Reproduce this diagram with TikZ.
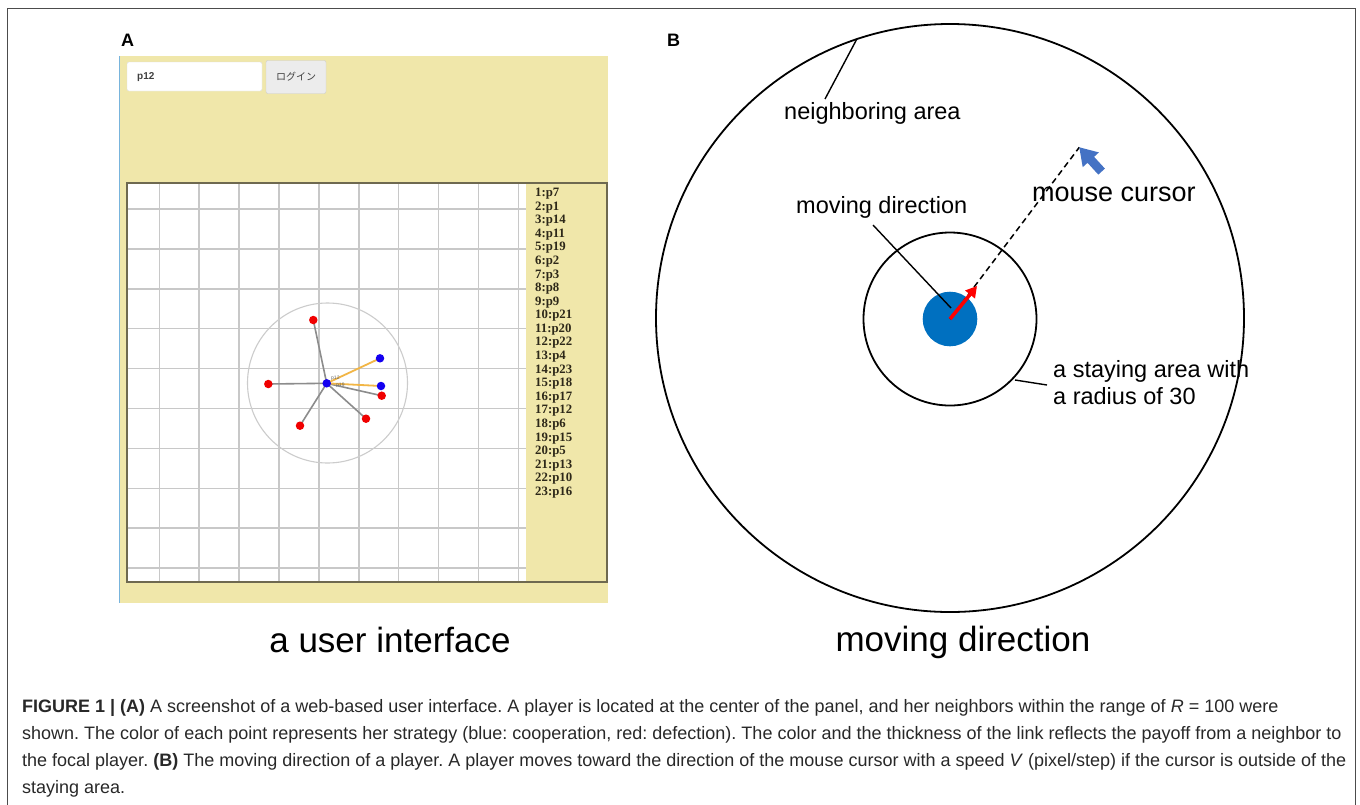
\documentclass[tikz,border=0pt]{standalone}
\usepackage{fontspec}
\setmainfont{Liberation Sans}
\newfontfamily\listfont{Liberation Serif}
\newfontfamily\jpfont{Noto Sans CJK JP}
\usetikzlibrary{arrows.meta}
\frenchspacing

\definecolor{panelyellow}{RGB}{240,231,170}
\definecolor{gridgray}{RGB}{200,200,200}
\definecolor{frameolive}{RGB}{110,105,80}
\definecolor{linkgray}{RGB}{140,140,140}
\definecolor{linkorange}{RGB}{242,182,70}
\definecolor{dotred}{RGB}{240,0,0}
\definecolor{dotblue}{RGB}{20,0,240}
\definecolor{diskblue}{RGB}{0,112,192}
\definecolor{cursorblue}{RGB}{68,114,196}
\definecolor{captiongray}{RGB}{40,40,40}
\definecolor{listtext}{RGB}{45,40,25}

\tikzset{
  badlink/.style={draw=linkgray, line width=1.6pt},
  goodlink/.style={draw=linkorange, line width=1.8pt},
  ring/.style={draw=black, line width=1.8pt},
  leader/.style={draw=black, line width=1.4pt},
  blabel/.style={anchor=base west, inner sep=0pt, font=\fontsize{23.5}{28}\selectfont},
  bigtitle/.style={anchor=base, inner sep=0pt, font=\fontsize{35}{40}\selectfont},
  capline/.style={anchor=base west, inner sep=0pt, text=captiongray, font=\fontsize{18}{22}\selectfont},
  panelletter/.style={anchor=base west, inner sep=0pt, font=\fontsize{18}{20}\selectfont\bfseries},
  listitem/.style={anchor=base west, inner sep=0pt, text=listtext, font=\listfont\bfseries\fontsize{12.8}{15}\selectfont},
  tinytag/.style={anchor=base west, inner sep=0pt, text=black!60, font=\fontsize{5}{6}\selectfont},
}

\begin{document}
\begin{tikzpicture}[x=1pt, y=-1pt]
\useasboundingbox (0,0) rectangle (1360,804);

% open frame around the figure
\draw[draw=black!70, line width=1.4pt] (7.5,810) -- (7.5,8.5) -- (1355.5,8.5) -- (1355.5,810);

% panel letters
\node[panelletter] (labA) at (121,46) {A};
\node[panelletter] (labB) at (667,46) {B};

% ---------- panel A: the web page ----------
\fill[panelyellow] (119,56) rectangle (608,603);
\draw[draw={rgb,255:red,120;green,180;blue,220}, line width=1.6pt] (119.5,56) -- (119.5,603);

% login box and button
\node[draw={rgb,255:red,222;green,222;blue,222}, fill=white, rounded corners=2pt,
      minimum width=135pt, minimum height=29pt, inner sep=0pt] (loginbox) at (194.5,76.5) {};
\node[anchor=west, inner sep=0pt, text=black!75, font=\fontsize{10}{12}\selectfont\bfseries]
      (user) at (137,77) {p12};
\node[draw={rgb,255:red,205;green,205;blue,205}, fill={rgb,255:red,236;green,236;blue,236},
      rounded corners=2pt, minimum width=60pt, minimum height=33pt, inner sep=0pt,
      text=black!75, font=\jpfont\fontsize{10}{12}\selectfont] (loginbtn) at (296,77) {ログイン};

% playing field with grid
\fill[white] (127,183) rectangle (526,582);
\begin{scope}
  \clip (127,183) rectangle (526,582);
  \foreach \k in {0,...,9} {
    \draw[gridgray, line width=1.5pt] ({159.3+39.9*\k},183) -- ({159.3+39.9*\k},582);
    \draw[gridgray, line width=1.5pt] (127,{209+39.9*\k}) -- (526,{209+39.9*\k});
  }
\end{scope}
\draw[frameolive, line width=1.6pt] (127,183) rectangle (607,582);

% ranking list
\foreach \p [count=\i] in {p7,p1,p14,p11,p19,p2,p3,p8,p9,p21,p20,p22,p4,p23,p18,p17,p12,p6,p15,p5,p13,p10,p16} {
  \node[listitem] (item\i) at (535,{196.5+13.59*(\i-1)}) {\i:\p};
}

% neighbourhood range
\draw[draw=black!20, line width=1.1pt] (327.5,383) circle[radius=80];

% neighbours and the focal player
\coordinate (n1) at (313.3,320);
\coordinate (n2) at (380,358.3);
\coordinate (n3) at (381,386);
\coordinate (n4) at (381.7,395.7);
\coordinate (n5) at (268.3,384);
\coordinate (n6) at (366,418.7);
\coordinate (n7) at (300,425.7);
\coordinate (me) at (326.7,383.3);

% links to the focal player
\draw[badlink] (me) -- (n1);
\draw[badlink] (me) -- (n5);
\draw[badlink] (me) -- (n6);
\draw[badlink] (me) -- (n7);
\draw[badlink] (me) -- (n4);
\draw[goodlink] (me) -- (n2);
\draw[goodlink] (me) -- (n3);
% players (red: defection, blue: cooperation)
\fill[dotred]  (n1) circle[radius=4.25];
\fill[dotblue] (n2) circle[radius=4.25];
\fill[dotblue] (n3) circle[radius=4.25];
\fill[dotred]  (n4) circle[radius=4.25];
\fill[dotred]  (n5) circle[radius=4.25];
\fill[dotred]  (n6) circle[radius=4.25];
\fill[dotred]  (n7) circle[radius=4.25];
\fill[dotblue] (me) circle[radius=4.25];
\node[tinytag] (tagA) at (331,379) {p12};
\node[tinytag] (tagB) at (336,386.5) {p19};

\node[bigtitle] (titleA) at (390,652) {a user interface};

% ---------- panel B: moving direction ----------
\draw[ring] (950,318) circle[radius=294];
\draw[ring] (950,319) circle[radius=86.5];
\fill[diskblue] (950,319) circle[radius=27.3];
\coordinate (disk) at (950,319);

\node[blabel] (nb) at (784,119) {neighboring area};
\coordinate (nbA) at (856.7,39.3);
\coordinate (nbB) at (825,99);
\draw[leader] (nbA) -- (nbB);

\node[blabel] (md) at (796,213) {moving direction};
\coordinate (mdA) at (873,225);
\coordinate (mdB) at (951,308);
\draw[leader] (mdA) -- (mdB);

\coordinate (tip) at (1079.3,147.3);
\draw[black, line width=1.5pt, dash pattern=on 6pt off 4pt] (disk) -- (tip);
\coordinate (head) at (977,286);
\draw[red, line width=3.6pt, -{Triangle[length=11pt,width=12pt]}] (disk) -- (head);

% mouse pointer
\fill[cursorblue] (tip) -- (1082.7,167.2) -- (1087.5,162.8) -- (1098.3,174.6)
   -- (1104.9,168.6) -- (1094.1,156.8) -- (1098.9,152.4) -- cycle;

\node[blabel, font=\fontsize{27}{30}\selectfont] (mc) at (1032,201) {mouse cursor};

\node[blabel] (sa1) at (1053,377) {a staying area with};
\node[blabel] (sa2) at (1053,404) {a radius of 30};
\coordinate (saA) at (1015,380);
\coordinate (saB) at (1047,385);
\draw[leader] (saA) -- (saB);

\node[bigtitle] (titleB) at (963,651) {moving direction};

% ---------- caption ----------
\node[capline] (cap1) at (22,712) {\textbf{FIGURE 1 | (A)} A screenshot of a web-based user interface. A player is located at the center of the panel, and her neighbors within the range of \textit{R} = 100 were};
\node[capline] (cap2) at (22,739) {shown. The color of each point represents her strategy (blue: cooperation, red: defection). The color and the thickness of the link reflects the payoff from a neighbor to};
\node[capline] (cap3) at (22,766) {the focal player. \textbf{(B)} The moving direction of a player. A player moves toward the direction of the mouse cursor with a speed \textit{V} (pixel/step) if the cursor is outside of the};
\node[capline] (cap4) at (22,793) {staying area.};
\end{tikzpicture}
\end{document}
